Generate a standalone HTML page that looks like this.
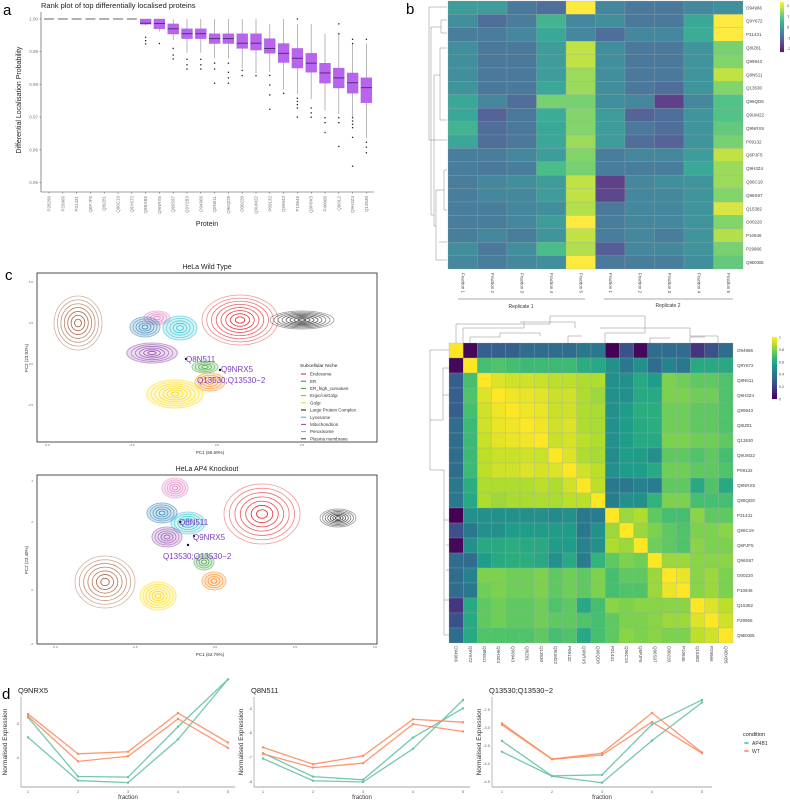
<!DOCTYPE html>
<html><head><meta charset="utf-8">
<style>
html,body{margin:0;padding:0;background:#fff;}
svg{display:block;font-family:"Liberation Sans",sans-serif;}
</style></head>
<body>
<svg id="fig" width="790" height="800" viewBox="0 0 790 800" xmlns="http://www.w3.org/2000/svg"></svg>
<script>
// ---------- Panel a data ----------
const aProteins = ["P28290","P29966","P31431","Q6PJF5","Q8IZ81","Q96C19","Q9Y672","Q9BXB5","Q9NRX5","Q96S97","Q9Y2B3","O94966","Q8N511","Q96QD8","O00220","Q9UM22","P09132","Q99943","P10646","Q9P0V3","P40060","Q96IL2","Q9H3Z4","Q13530"];
const aMedian = [1,1,1,1,1,1,1,0.9987,0.9986,0.997,0.9955,0.9955,0.994,0.994,0.9926,0.9926,0.991,0.9895,0.988,0.9865,0.9835,0.982,0.9805,0.979];
const aQ1 = [1,1,1,1,1,1,1,0.9984,0.997,0.9954,0.994,0.994,0.9925,0.9925,0.991,0.9905,0.9895,0.9867,0.985,0.9837,0.9804,0.9789,0.9773,0.9744];
const aQ3 = [1,1,1,1,1,1,1,1,1,0.9985,0.997,0.997,0.9955,0.9955,0.9955,0.9955,0.994,0.9925,0.991,0.9895,0.9865,0.985,0.9835,0.982];
const aLow = [1,1,1,1,1,1,1,0.998,0.9962,0.9936,0.9897,0.9897,0.988,0.988,0.985,0.9834,0.9838,0.9784,0.977,0.9755,0.972,0.971,0.970,0.9637];
const aHigh = [1,1,1,1,1,1,1,1,1,1,1,1,1,1,1,1,0.9985,1,0.9985,0.9985,0.9955,0.9955,0.9925,0.9925];
const aOutliers = [[],[],[],[],[],[],[],[0.9944,0.9934,0.9924],[0.9925],[0.991,0.989,0.9878],[0.9877,0.986,0.9847],[0.9877,0.986,0.9847],[0.9865,0.9847,0.9804],[0.9865,0.9837,0.982,0.9804],[0.9843,0.9827],[0.9827],[0.9828,0.9798,0.9768,0.9724],[0.9773],[1.0,0.9758,0.9748,0.9738,0.9728,0.97],[0.9728,0.9713,0.97],[0.9698,0.9683,0.9653],[0.9985,0.9955,0.9698,0.9683,0.961],[0.9938,0.9925,0.9698,0.9688,0.9678,0.9668,0.9638,0.955],[0.9938,0.9623,0.9608,0.9591]];
const aYTicks = [1.00,0.99,0.98,0.97,0.96,0.95];

// ---------- Panel b (top heatmap) data ----------
const bRows = ["O94966","Q9Y672","P31431","Q8IZ81","Q99943","Q8N511","Q13530","Q96QD8","Q9UM22","Q9NRX5","P09132","Q6PJF5","Q9H3Z4","Q96C19","Q96S97","Q15382","O00220","P10646","P29966","Q9BXB5"];
const bCols = ["Fraction 1","Fraction 2","Fraction 3","Fraction 4","Fraction 5","Fraction 1","Fraction 2","Fraction 3","Fraction 4","Fraction 5"];
const bZ = [
[0,0,-0.8,-1,2.3,-0.5,-0.8,-0.8,-0.5,-0.3],
[-0.3,-1,-0.7,0.5,-0.5,-0.3,-0.8,-0.8,0.2,2.3],
[-0.7,-0.7,-0.5,0.2,-0.5,-1,-0.5,-0.5,0.3,2.3],
[-0.3,-0.8,-0.8,0,1.8,-0.3,-0.8,-0.8,-0.2,1.2],
[-0.3,-0.8,-0.8,0,1.8,-0.3,-0.8,-0.8,-0.2,1.3],
[-0.3,-0.8,-0.8,0,1.5,-0.3,-0.8,-0.8,-0.2,1.8],
[-0.2,-0.8,-0.8,0.2,1.5,-0.3,-0.8,-1,-0.2,1.3],
[0.2,-0.5,-1,1.2,1.2,-0.3,-0.5,-1.8,-0.5,0.8],
[0.2,-1.2,-0.8,0.3,1.3,0,-1.2,-1,-0.2,0.8],
[0.5,-1,-0.8,0.2,1.3,0,-0.8,-1,-0.2,1],
[0.2,-1,-0.8,0.2,1.5,0,-1,-1.2,-0.2,1.2],
[-0.7,-0.7,-0.5,0,1.3,-0.7,-0.5,-0.5,0,1.8],
[-0.7,-0.8,-0.7,0.7,1.2,-0.7,-0.7,-0.7,0.2,1.5],
[-0.7,-0.5,-0.3,0,1.8,-1.8,-0.5,-0.3,-0.2,1.5],
[-0.7,-0.5,-0.5,0,1.8,-1.7,-0.5,-0.5,-0.2,1.3],
[-0.7,-0.7,-0.5,-0.3,1.7,-0.8,-0.5,-0.5,-0.2,2],
[-0.7,-0.7,-0.5,0,2.3,-0.7,-0.5,-0.5,-0.2,1.3],
[-0.7,-0.5,-0.7,-0.2,1.8,-0.7,-0.5,-0.7,-0.2,1.7],
[-0.3,-0.8,-0.3,0.7,1.7,-1.3,-0.5,-0.5,-0.2,1.2],
[-0.5,-0.7,-0.5,-0.3,2.3,-0.8,-0.7,-0.7,-0.3,1]];
const bTicks = [2,1,0,-1,-2];

// ---------- Correlation heatmap data ----------
const cNames = ["O94966","Q9Y672","Q8N511","Q9H3Z4","Q99943","Q8IZ81","Q13530","Q9UM22","P09132","Q9NRX5","Q96QD8","P31431","Q96C19","Q6PJF5","Q96S97","O00220","P10646","Q15382","P29966","Q9BXB5"];
const cVals = [
[1,.02,.3,.3,.3,.35,.35,.35,.35,.4,.4,0,.25,.02,.35,.35,.35,.15,.25,.35],
[.02,1,.7,.72,.7,.68,.68,.68,.68,.62,.6,.5,.4,.5,.35,.45,.4,.6,.6,.6],
[.3,.7,1,.95,.93,.93,.92,.9,.9,.88,.88,.5,.5,.6,.55,.8,.78,.75,.75,.72],
[.3,.72,.95,1,.98,.97,.96,.92,.93,.88,.85,.5,.5,.6,.6,.8,.8,.78,.78,.72],
[.3,.7,.93,.98,1,.98,.97,.92,.93,.88,.87,.5,.55,.62,.62,.78,.78,.75,.75,.72],
[.35,.68,.93,.97,.98,1,.98,.93,.95,.88,.87,.5,.55,.6,.62,.78,.78,.75,.75,.72],
[.35,.68,.92,.96,.97,.98,1,.92,.94,.9,.88,.5,.55,.6,.6,.8,.8,.78,.78,.75],
[.35,.68,.9,.92,.92,.93,.92,1,.95,.88,.87,.48,.55,.55,.5,.75,.75,.72,.75,.7],
[.35,.68,.9,.93,.93,.95,.94,.95,1,.93,.9,.5,.55,.55,.6,.78,.78,.75,.75,.72],
[.4,.62,.88,.88,.88,.88,.9,.88,.93,1,.9,.4,.4,.45,.42,.75,.75,.6,.72,.6],
[.4,.6,.88,.85,.87,.87,.88,.87,.9,.9,1,.42,.5,.5,.65,.8,.8,.7,.7,.7],
[0,.5,.5,.5,.5,.5,.5,.48,.5,.4,.42,1,.85,.88,.75,.7,.7,.82,.75,.75],
[.25,.4,.5,.5,.55,.55,.55,.55,.55,.4,.5,.85,1,.85,.8,.75,.72,.8,.8,.82],
[.02,.5,.6,.6,.62,.6,.6,.55,.55,.45,.5,.88,.85,1,.78,.75,.72,.82,.8,.8],
[.35,.35,.55,.6,.62,.62,.6,.5,.6,.42,.65,.75,.8,.78,1,.85,.85,.82,.82,.82],
[.35,.45,.8,.8,.78,.78,.8,.75,.78,.75,.8,.7,.75,.75,.85,1,.97,.82,.85,.8],
[.35,.4,.78,.8,.78,.78,.8,.75,.78,.75,.8,.7,.72,.72,.85,.97,1,.82,.85,.8],
[.15,.6,.75,.78,.75,.75,.78,.72,.75,.6,.7,.82,.8,.82,.82,.82,.82,1,.95,.9],
[.25,.6,.75,.78,.75,.75,.78,.75,.75,.72,.7,.75,.8,.8,.82,.85,.85,.95,1,.93],
[.35,.6,.72,.72,.72,.72,.75,.7,.72,.6,.7,.75,.82,.8,.82,.8,.8,.9,.93,1]];
const cTicks = [1,0.8,0.6,0.4,0.2,0];

// ---------- Panel d data ----------
const dFractions = [1,2,3,4,5];
const dTitles = ["Q9NRX5","Q8N511","Q13530;Q13530\u22122"];
const dWT = [
 [[-2.73,-3.89,-3.83,-2.70,-3.56],[-2.79,-4.11,-3.96,-2.87,-3.72]],
 [[-6.60,-7.29,-6.95,-5.45,-5.57],[-6.87,-7.43,-7.25,-5.65,-5.95]],
 [[-2.89,-3.88,-3.72,-2.60,-3.70],[-2.93,-3.89,-3.77,-2.85,-3.72]]];
const dAP = [
 [[-2.83,-4.55,-4.57,-3.10,-1.72],[-3.41,-4.67,-4.73,-3.47,-1.72]],
 [[-6.84,-7.80,-7.93,-6.20,-5.00],[-7.06,-7.97,-8.02,-6.66,-4.66]],
 [[-3.38,-4.35,-4.32,-2.92,-2.24],[-3.68,-4.36,-4.54,-3.37,-2.31]]];
const dYTicks = [[-3,-4],[-5,-6,-7,-8],[-2.5,-3.0,-3.5,-4.0,-4.5]];

// ---------- helpers ----------
const NS="http://www.w3.org/2000/svg";
const svg=document.getElementById('fig');
function mk(tag,attrs,parent){const e=document.createElementNS(NS,tag);for(const k in attrs)e.setAttribute(k,attrs[k]);(parent||svg).appendChild(e);return e;}
function txt(s,attrs,parent){const e=mk('text',attrs,parent);e.textContent=s;return e;}
const VIR=["#440154","#482878","#3e4989","#31688e","#26828e","#1f9e89","#35b779","#6ece58","#b5de2b","#fde725"];
function hx(c){return [parseInt(c.slice(1,3),16),parseInt(c.slice(3,5),16),parseInt(c.slice(5,7),16)];}
function viridis(t){t=Math.max(0,Math.min(1,t));const p=t*(VIR.length-1);const i=Math.min(Math.floor(p),VIR.length-2);const f=p-i;const a=hx(VIR[i]),b=hx(VIR[i+1]);return "rgb("+a.map((v,k)=>Math.round(v+(b[k]-v)*f)).join(",")+")";}

// ================= Panel a =================
const gA=mk('g',{});


const la=txt("a",{x:3,y:15,'font-size':15},gA);


const ta=txt("Rank plot of top differentially localised proteins",{x:41,y:8,'font-size':7.5,fill:'#222'},gA);


const aX0=41,aX1=374,aYb=192;
function aY(v){return 19+(1-v)*3270;}
function aX(i){return 49+i*13.8;}
mk('line',{x1:aX0,y1:12,x2:aX0,y2:aYb,stroke:'#444','stroke-width':0.6},gA);
mk('line',{x1:aX0,y1:aYb,x2:aX1,y2:aYb,stroke:'#444','stroke-width':0.6},gA);
aYTicks.forEach(v=>{
  const t=txt(v.toFixed(2),{x:aX0-3,y:aY(v)+1.5,'font-size':4.5,fill:'#777','text-anchor':'end'},gA);
  
  
  mk('line',{x1:aX0-1.5,y1:aY(v),x2:aX0,y2:aY(v),stroke:'#444','stroke-width':0.5},gA);
});
const yta=txt("Differential Localisation Probability",{x:0,y:0,'font-size':7,fill:'#222','text-anchor':'middle',transform:'translate(21,100) rotate(-90)'},gA);


const xta=txt("Protein",{x:207,y:226,'font-size':7,fill:'#222','text-anchor':'middle'},gA);


aProteins.forEach((p,i)=>{
  const x=aX(i);
  mk('line',{x1:x,y1:aYb,x2:x,y2:aYb+1.5,stroke:'#444','stroke-width':0.5},gA);
  const t=txt(p,{x:0,y:0,'font-size':4.5,fill:'#777','text-anchor':'end',transform:`translate(${x+1.5},${aYb+4}) rotate(-90)`},gA);
  
  
  const g=mk('g',{},gA);
  
  
  if(aQ1[i]===aQ3[i]){
    mk('line',{x1:x-5,y1:aY(aMedian[i]),x2:x+5,y2:aY(aMedian[i]),stroke:'#555','stroke-width':0.9},g);
  } else {
    mk('line',{x1:x,y1:aY(aHigh[i]),x2:x,y2:aY(aLow[i]),stroke:'#999','stroke-width':0.7},g);
    mk('rect',{x:x-5.5,y:aY(aQ3[i]),width:11,height:aY(aQ1[i])-aY(aQ3[i]),fill:'#b964ee',stroke:'#a050d8','stroke-width':0.3},g);
    mk('line',{x1:x-5.5,y1:aY(aMedian[i]),x2:x+5.5,y2:aY(aMedian[i]),stroke:'#4a2a66','stroke-width':0.9},g);
  }
  aOutliers[i].forEach(v=>{
    const c=mk('circle',{cx:x,cy:aY(v),r:0.75,fill:'#222'},g);
    
    
  });
});

// ================= Panel b top heatmap =================
const gB=mk('g',{});


const lb=txt("b",{x:406,y:14,'font-size':15},gB);


const bX0=448,bCw=29.5,bY0=1,bRh=13.4;
bRows.forEach((r,i)=>{
  bCols.forEach((c,j)=>{
    const v=bZ[i][j];
    const cell=mk('rect',{x:bX0+j*bCw,y:bY0+i*bRh,width:bCw,height:bRh,fill:viridis((v+2.3)/4.6),stroke:'#9aa','stroke-width':0.25,'fill-opacity':0.88},gB);
    
    
  });
  const t=txt(r,{x:bX0+10*bCw+3,y:bY0+i*bRh+bRh/2+1.6,'font-size':4.5,fill:'#444'},gB);
  
  
});
bCols.forEach((c,j)=>{
  const t=txt(c,{x:0,y:0,'font-size':4.5,fill:'#444',transform:`translate(${bX0+j*bCw+bCw/2-1.5},${bY0+20*bRh+4}) rotate(90)`},gB);
  
  
});
mk('line',{x1:458,y1:299,x2:585,y2:299,stroke:'#555','stroke-width':0.6},gB);
mk('line',{x1:604,y1:299,x2:733,y2:299,stroke:'#555','stroke-width':0.6},gB);
const r1=txt("Replicate 1",{x:521,y:308,'font-size':5,fill:'#333','text-anchor':'middle'},gB);


const r2=txt("Replicate 2",{x:668,y:307,'font-size':5,fill:'#333','text-anchor':'middle'},gB);


mk('path',{d:"M447,7 H429 V140 H447 M431,140 V27 H441 V33 H447 M441,27 V20 H447 M431,140 V215 H434 V75 H440 V48 H447 M440,75 V120 H447 M434,215 V226 H436 V190 H444 V170 H447 M444,190 V210 H447 M436,226 V260 H447 M439,242 H447",fill:'none',stroke:'#888','stroke-width':0.5},gB);
for(let k=0;k<25;k++){mk('rect',{x:780,y:2+k*2,width:4,height:2.1,fill:viridis(1-k/24),'fill-opacity':0.88},gB);}
bTicks.forEach(v=>{
  const t=txt(v===0?"0":(v<0?"-"+(-v):String(v)),{x:787,y:2+(2.3-v)/4.6*50+1.5,'font-size':4,fill:'#444'},gB);
  
  
});

// ================= Correlation heatmap =================
const gC=mk('g',{});


const cX0=449,cCw=14.2,cY0=343,cRh=15;
cNames.forEach((r,i)=>{
  cNames.forEach((c,j)=>{
    const cell=mk('rect',{x:cX0+j*cCw,y:cY0+i*cRh,width:cCw,height:cRh,fill:viridis(cVals[i][j]),stroke:'#9aa','stroke-width':0.25},gC);
    
    
  });
  const t=txt(r,{x:cX0+20*cCw+4,y:cY0+i*cRh+cRh/2+1.6,'font-size':4.5,fill:'#444'},gC);
  
  
  const t2=txt(r,{x:0,y:0,'font-size':4.5,fill:'#444',transform:`translate(${cX0+i*cCw+cCw/2-1.5},${cY0+20*cRh+3}) rotate(90)`},gC);
  
  
});
mk('path',{d:"M456,343 V324 H550 V316 H645 V333 M463,343 V328 H524 V322 M520,322 H575 V328 M600,328 H640 H690 V336 M645,333 H605 V343 M690,336 H718 V343 M470,343 V337 H500 V333 H540 V336 M568,343 V336 H582 M650,343 V338 H670 M690,343 V337 H705",fill:'none',stroke:'#888','stroke-width':0.5},gC);
mk('path',{d:"M449,350 H430 V420 H443 V368 H449 M443,395 H449 M430,420 V470 H444 V600 H449 M444,520 H449 M446,545 H449 M446,570 H449 M444,635 H449 M444,600 V635",fill:'none',stroke:'#888','stroke-width':0.5},gC);
for(let k=0;k<31;k++){mk('rect',{x:772,y:337+k*2,width:5,height:2.1,fill:viridis(1-k/30)},gC);}
cTicks.forEach(v=>{
  const t=txt(String(v),{x:779,y:337+(1-v)*62+1.5,'font-size':3.6,fill:'#444'},gC);
  
  
});

// ================= Panel c PCA =================
const gP=mk('g',{});


const lc=txt("c",{x:5,y:280,'font-size':15},gP);


function blob(g,cx,cy,rx,ry,col,n,fill){
  if(fill) mk('ellipse',{cx:cx,cy:cy,rx:rx*1.05,ry:ry*1.05,fill:col,'fill-opacity':0.18},g);
  for(let k=n;k>=1;k--){const f=k/n;mk('ellipse',{cx:cx,cy:cy,rx:rx*f,ry:ry*f,fill:'none',stroke:col,'stroke-width':0.8,'stroke-opacity':0.35+0.65*(1-f)+0.1},g);}
}
const niches=[["Endosome","#e41a1c"],["ER","#1f78b4"],["ER_high_curvature","#33a02c"],["Ergic/cisGolgi","#ff7f00"],["Golgi","#ffd700"],["Large Protein Complex","#111111"],["Lysosome","#17becf"],["Mitochondrion","#8e44ad"],["Peroxisome","#e377c2"],["Plasma membrane","#444444"]];
function pcaPlot(y0,title,ylab,xlab,blobs,pts,labels,legend,yt,xt){
  const g=mk('g',{},gP);
  
  
  const tt=txt(title,{x:207,y:y0-4,'font-size':7,fill:'#222','text-anchor':'middle'},g);
  
  
  blobs.forEach(b=>blob(g,b[0],b[1],b[2],b[3],b[4],b[5],b[6]));
  mk('rect',{x:37,y:y0,width:340,height:169,fill:'none',stroke:'#222','stroke-width':0.8},g);
  pts.forEach(p=>{const c=mk('circle',{cx:p[0],cy:p[1],r:1.2,fill:'#111'},g);});
  labels.forEach(l=>{const t=txt(l[0],{x:l[1],y:l[2],'font-size':8,fill:'#7b3fc4'},g);});
  yt.forEach(t=>txt(t[0],{x:33,y:t[1],'font-size':3,fill:'#666','text-anchor':'end'},g));
  xt.forEach(t=>txt(t[0],{x:t[1],y:y0+173,'font-size':3,fill:'#666','text-anchor':'middle'},g));
  const yl=txt(ylab,{x:0,y:0,'font-size':4.5,fill:'#333','text-anchor':'middle',transform:`translate(28,${y0+85}) rotate(-90)`},g);
  
  
  const xl=txt(xlab,{x:210,y:y0+181,'font-size':4.5,fill:'#333','text-anchor':'middle'},g);
  
  
  if(legend){
    const lg=mk('g',{},g);
    
    
    txt("Subcellular Niche",{x:300,y:367,'font-size':4.8,fill:'#222'},lg);
    niches.forEach((n,k)=>{
      const yy=374+k*7.2;
      mk('line',{x1:301,y1:yy,x2:306,y2:yy,stroke:n[1],'stroke-width':1},lg);
      const t=txt(n[0],{x:310,y:yy+1.6,'font-size':4.5,fill:'#333'},lg);
      
      
    });
  }
}
pcaPlot(273,"HeLa Wild Type","PC2 (23.03%)","PC1 (66.69%)",
 [[78,323,24,27,'#a0522d',7,false],[157,318,13,7,'#e377c2',4,true],[145,327,15,10,'#1f78b4',5,true],[180,328,17,12,'#17becf',5,true],[152,353,25,10,'#8e44ad',6,true],[205,367,13,6,'#33a02c',4,true],[210,382,15,9,'#ff7f00',4,true],[175,394,28,14,'#ffd700',7,true],[240,320,38,25,'#e41a1c',8,false],[302,320,32,9,'#222',8,false]],
 [[186,359],[220,370]],
 [["Q8N511",186,362],["Q9NRX5",221,372],["Q13530;Q13530\u22122",197,383]],true,
 [["5.0",283],["2.5",324],["0.0",365],["-2.5",406]],[["-5.0",47],["-2.5",132],["0.0",217],["2.5",302]]);
pcaPlot(475,"HeLa AP4 Knockout","PC2 (23.48%)","PC1 (62.79%)",
 [[175,488,13,10,'#e377c2',5,true],[162,513,15,10,'#1f78b4',5,true],[188,523,17,11,'#17becf',5,true],[167,537,15,10,'#8e44ad',5,true],[262,514,38,30,'#e41a1c',7,false],[338,518,18,9,'#222',7,false],[105,582,30,26,'#a0522d',7,false],[158,596,18,14,'#ffd700',6,true],[204,562,10,8,'#33a02c',4,true],[214,581,12,9,'#ff7f00',4,true]],
 [[180,522],[194,536],[188,545]],
 [["Q8N511",179,525],["Q9NRX5",193,540],["Q13530;Q13530\u22122",163,559]],false,
 [["4",482],["2",523],["0",591],["-2",645]],[["-5.0",55],["-2.5",135],["0.0",215],["2.5",295],["5.0",375]]);

// ================= Panel d line charts =================
const gD=mk('g',{});


const ld=txt("d",{x:2,y:699,'font-size':15},gD);


const dCfg=[{ax:21,x1:28,xe:235,v0:-3,y0:723.3,s:34.3,yt:7},{ax:254,x1:263,xe:470,v0:-5,y0:708.3,s:24.4,yt:243},{ax:492,x1:502,xe:712,v0:-2.5,y0:709.3,s:36,yt:481}];
const WTc="#fc8d62",APc="#66c2a5";
dCfg.forEach((c,p)=>{
  const g=mk('g',{},gD);
  
  
  const xs=f=>c.x1+(f-1)*50;
  const ys=v=>c.y0+(c.v0-v)*c.s;
  const tt=txt(dTitles[p],{x:c.ax-3,y:693,'font-size':7.5,fill:'#222'},g);
  
  
  mk('line',{x1:c.ax,y1:697,x2:c.ax,y2:787,stroke:'#888','stroke-width':0.6},g);
  mk('line',{x1:c.ax,y1:787,x2:c.xe,y2:787,stroke:'#888','stroke-width':0.8},g);
  dFractions.forEach(f=>{txt(String(f),{x:xs(f),y:793,'font-size':4,fill:'#666','text-anchor':'middle'},g);});
  dYTicks[p].forEach(v=>{const t=txt(p===2?v.toFixed(1):String(v),{x:c.ax-2,y:ys(v)+1.5,'font-size':4,fill:'#666','text-anchor':'end'},g);});
  const yl=txt("Normalised Expression",{x:0,y:0,'font-size':6.5,fill:'#333','text-anchor':'middle',transform:`translate(${c.yt},742) rotate(-90)`},g);
  
  
  const xl=txt("fraction",{x:(c.ax+c.xe)/2,y:799,'font-size':6,fill:'#333','text-anchor':'middle'},g);
  
  
  [[dAP[p],APc,'ap4b1'],[dWT[p],WTc,'wt']].forEach(([series,col,nm])=>{
    series.forEach(vals=>{
      const pl=mk('polyline',{points:vals.map((v,i)=>xs(dFractions[i])+","+ys(v)).join(" "),fill:'none',stroke:col,'stroke-width':1.3,'stroke-opacity':0.9},g);
      
      
      vals.forEach((v,i)=>{mk('circle',{cx:xs(dFractions[i]),cy:ys(v),r:1.2,fill:col},g);});
    });
  });
});
const lgd=mk('g',{},gD);


txt("condition",{x:743,y:736,'font-size':5.5,fill:'#222'},lgd);
[["AP4B1",APc,743],["WT",WTc,751]].forEach(e=>{
  mk('line',{x1:744,y1:e[2],x2:749,y2:e[2],stroke:e[1],'stroke-width':1.2},lgd);
  mk('circle',{cx:746.5,cy:e[2],r:1.1,fill:e[1]},lgd);
  const t=txt(e[0],{x:752,y:e[2]+1.8,'font-size':5,fill:'#333'},lgd);
  
  
});
</script>
</body></html>
